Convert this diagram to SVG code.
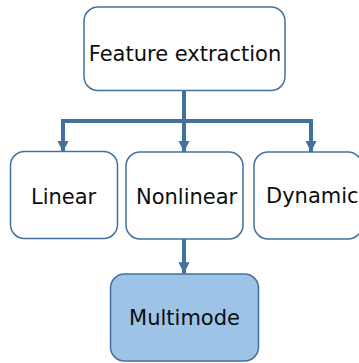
<svg xmlns="http://www.w3.org/2000/svg" width="359" height="363" viewBox="0 0 359 363">
<style>
.box{fill:#ffffff;stroke:#41719c;stroke-width:1.5}
.hl{fill:#9dc3e6;stroke:#41719c;stroke-width:1.5}
.lbl{font-family:"DejaVu Sans",sans-serif;font-size:21px;fill:#0d0d0d;text-anchor:middle}
.conn{fill:none;stroke:#41719c;stroke-width:4}
</style>
<defs>
<marker id="ah" viewBox="0 0 10 10" refX="10" refY="5" markerWidth="2.8" markerHeight="2.8" orient="auto" markerUnits="strokeWidth">
<path d="M0,0 L10,5 L0,10 z" fill="#41719c"/>
</marker>
</defs>
<g id="connectors">
<path class="conn" d="M184,90 V121"/>
<path class="conn" d="M63,121 H311"/>
<path class="conn" d="M63,119 V152" marker-end="url(#ah)"/>
<path class="conn" d="M184,119 V152" marker-end="url(#ah)"/>
<path class="conn" d="M311,119 V152" marker-end="url(#ah)"/>
<path class="conn" d="M184,239 V273.5" marker-end="url(#ah)"/>
</g>
<g id="feature-extraction">
<rect class="box" x="84" y="7" width="201" height="83.5" rx="14"/>
<text class="lbl" x="185" y="60.5">Feature extraction</text>
</g>
<g id="linear">
<rect class="box" x="10.5" y="151.5" width="107" height="87" rx="14"/>
<text class="lbl" x="63.6" y="203.5">Linear</text>
</g>
<g id="nonlinear">
<rect class="box" x="126" y="152" width="117" height="87" rx="14"/>
<text class="lbl" x="186.6" y="204">Nonlinear</text>
</g>
<g id="dynamic">
<rect class="box" x="254" y="152" width="108" height="87" rx="14"/>
<text class="lbl" x="312.3" y="202.5">Dynamic</text>
</g>
<g id="multimode">
<rect class="hl" x="110.5" y="274" width="148" height="87" rx="14"/>
<text class="lbl" x="184.5" y="325">Multimode</text>
</g>
</svg>
